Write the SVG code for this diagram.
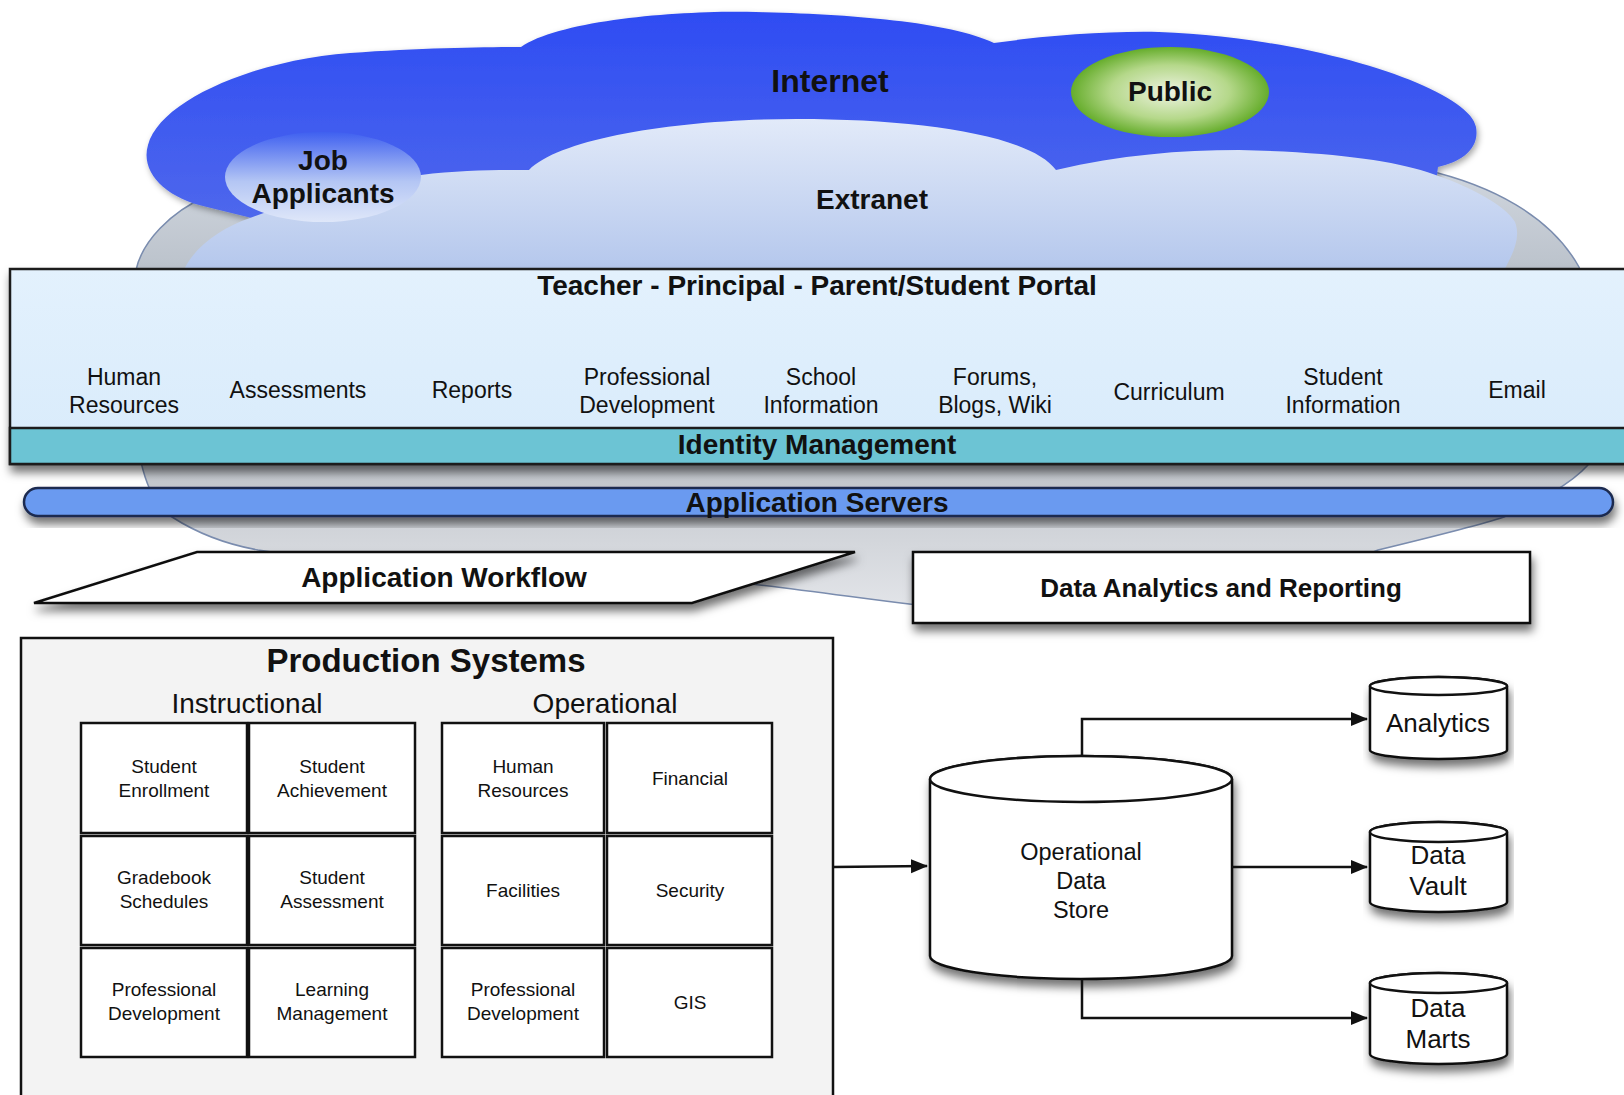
<svg xmlns="http://www.w3.org/2000/svg" width="1624" height="1095" viewBox="0 0 1624 1095">
<style>
.t{font-family:"Liberation Sans",Arial,Helvetica,sans-serif;fill:#111;text-anchor:middle}
.b{font-weight:bold}
.cell{fill:#fff;stroke:#111;stroke-width:2.5}
.cyl{fill:#fff;stroke:#111;stroke-width:2.5}
.conn{fill:none;stroke:#111;stroke-width:2.5}
</style>
<defs>
<linearGradient id="gInternet" x1="0" y1="0" x2="0" y2="1">
<stop offset="0" stop-color="#2e4cf3"/><stop offset="1" stop-color="#5069ec"/>
</linearGradient>
<linearGradient id="gFace" x1="0" y1="0" x2="0" y2="1">
<stop offset="0" stop-color="#e2eaf9"/><stop offset="1" stop-color="#b3c6ec"/>
</linearGradient>
<linearGradient id="gBase" gradientUnits="userSpaceOnUse" x1="0" y1="150" x2="0" y2="615">
<stop offset="0" stop-color="#d4dae2"/><stop offset="0.25" stop-color="#bcc3cc"/><stop offset="0.7" stop-color="#c4c8ce"/><stop offset="1" stop-color="#e4e6ea"/>
</linearGradient>
<linearGradient id="gJob" x1="0" y1="0" x2="0" y2="1">
<stop offset="0" stop-color="#3f60f0"/><stop offset="0.55" stop-color="#b4c6f4"/><stop offset="1" stop-color="#dfe7f9"/>
</linearGradient>
<radialGradient id="gPublic" cx="0.5" cy="0.5" r="0.5">
<stop offset="0" stop-color="#eef3e2"/><stop offset="0.6" stop-color="#b5d88a"/><stop offset="1" stop-color="#66ad2c"/>
</radialGradient>
<linearGradient id="gPortal" x1="0" y1="0" x2="0" y2="1">
<stop offset="0" stop-color="#e3f1fd"/><stop offset="1" stop-color="#d8ebfb"/>
</linearGradient>
<filter id="sh" x="-5%" y="-20%" width="110%" height="160%">
<feDropShadow dx="2" dy="7" stdDeviation="5" flood-color="#000" flood-opacity="0.55"/>
</filter>
<filter id="shs" x="-5%" y="-10%" width="110%" height="130%">
<feDropShadow dx="2" dy="3" stdDeviation="3" flood-color="#000" flood-opacity="0.35"/>
</filter>
<marker id="arr" markerUnits="userSpaceOnUse" markerWidth="18" markerHeight="16" refX="16" refY="7" orient="auto">
<path d="M0,0 L17,7 L0,14 Z" fill="#111"/>
</marker>
</defs>

<g id="extranet-base">
<path d="M207,196 C170,212 142,242 136,270 L133,400 C135,430 138,452 143,470 C150,495 160,510 172,517 C200,535 230,545 258,550 C380,568 500,575 600,572 C720,575 860,600 960,610 C1100,616 1300,585 1378,550 C1440,535 1480,525 1504,517 C1540,500 1570,485 1588,465 L1592,400 C1592,330 1588,290 1579,267 C1550,215 1490,185 1426,170 L1426,150 L207,150 Z" fill="url(#gBase)" stroke="#7a8cae" stroke-width="1.5"/>
</g>

<g id="internet" filter="url(#shs)">
<path d="M207,207 C165,198 140,172 148,145 C160,100 255,60 350,53 C420,48 480,47 521,47 C560,20 680,10 756,12 C850,14 950,22 994,43 C1050,35 1110,31 1159,32 C1320,38 1470,90 1476,127 C1480,150 1460,162 1438,167 L1430,230 L300,230 Z" fill="url(#gInternet)"/>
</g>

<g id="extranet">
<path d="M182,275 C190,250 220,228 250,218 L300,200 L421,175 C460,170 500,170 529,170 C560,138 680,119 797,119 C920,119 1030,135 1056,170 C1120,155 1180,150 1239,150 C1330,152 1390,160 1427,172 C1470,186 1505,205 1515,222 C1522,240 1510,258 1502,275 Z" fill="url(#gFace)"/>
<text class="t b" x="872" y="209" font-size="28">Extranet</text>
</g>
<text class="t b" x="830" y="92" font-size="32">Internet</text>

<g id="job-applicants">
<ellipse cx="323" cy="177" rx="98" ry="45" fill="url(#gJob)"/>
<text class="t b" x="323" y="170" font-size="28">Job</text>
<text class="t b" x="323" y="203" font-size="28">Applicants</text>
</g>

<g id="public">
<ellipse cx="1170" cy="92" rx="99" ry="45" fill="url(#gPublic)"/>
<text class="t b" x="1170" y="101" font-size="28">Public</text>
</g>

<g id="portal" filter="url(#sh)">
<rect x="10" y="269" width="1640" height="195" fill="url(#gPortal)" stroke="#1a1a1a" stroke-width="2.5"/>
<rect x="10" y="428" width="1640" height="36" fill="#6cc4d4" stroke="#1a1a1a" stroke-width="2.5"/>
</g>
<g id="portal-text">
<text class="t b" x="817" y="295" font-size="28">Teacher - Principal - Parent/Student Portal</text>
<text class="t" x="124" y="385" font-size="23">Human</text>
<text class="t" x="124" y="413" font-size="23">Resources</text>
<text class="t" x="298" y="398" font-size="23">Assessments</text>
<text class="t" x="472" y="398" font-size="23">Reports</text>
<text class="t" x="647" y="385" font-size="23">Professional</text>
<text class="t" x="647" y="413" font-size="23">Development</text>
<text class="t" x="821" y="385" font-size="23">School</text>
<text class="t" x="821" y="413" font-size="23">Information</text>
<text class="t" x="995" y="385" font-size="23">Forums,</text>
<text class="t" x="995" y="413" font-size="23">Blogs, Wiki</text>
<text class="t" x="1169" y="400" font-size="23">Curriculum</text>
<text class="t" x="1343" y="385" font-size="23">Student</text>
<text class="t" x="1343" y="413" font-size="23">Information</text>
<text class="t" x="1517" y="398" font-size="23">Email</text>
</g>
<g id="identity-management">
<text class="t b" x="817" y="454" font-size="28">Identity Management</text>
</g>

<g id="application-servers">
<rect x="24" y="488" width="1589" height="28" rx="14" ry="14" fill="#6b9af0" stroke="#1a2a50" stroke-width="2.5" filter="url(#sh)"/>
<text class="t b" x="817" y="512" font-size="28">Application Servers</text>
</g>

<g id="application-workflow">
<polygon points="197,552 855,552 692,603 34,603" fill="#fff" stroke="#111" stroke-width="2.5" filter="url(#sh)"/>
<text class="t b" x="444" y="587" font-size="28">Application Workflow</text>
</g>

<g id="data-analytics">
<rect x="913" y="552" width="617" height="71" fill="#fff" stroke="#111" stroke-width="2.5" filter="url(#sh)"/>
<text class="t b" x="1221" y="597" font-size="26">Data Analytics and Reporting</text>
</g>

<g id="production-systems">
<rect x="21" y="638" width="812" height="470" fill="#f3f3f3" stroke="#111" stroke-width="2.5"/>
<text class="t b" x="426" y="672" font-size="33">Production Systems</text>
<text class="t" x="247" y="713" font-size="28">Instructional</text>
<text class="t" x="605" y="713" font-size="28">Operational</text>
</g>

<g id="cell-student-enrollment"><rect class="cell" x="81" y="723" width="166" height="110"/>
<text class="t" x="164" y="773" font-size="19">Student</text><text class="t" x="164" y="797" font-size="19">Enrollment</text></g>
<g id="cell-student-achievement"><rect class="cell" x="249" y="723" width="166" height="110"/>
<text class="t" x="332" y="773" font-size="19">Student</text><text class="t" x="332" y="797" font-size="19">Achievement</text></g>
<g id="cell-gradebook"><rect class="cell" x="81" y="836" width="166" height="109"/>
<text class="t" x="164" y="884" font-size="19">Gradebook</text><text class="t" x="164" y="908" font-size="19">Schedules</text></g>
<g id="cell-student-assessment"><rect class="cell" x="249" y="836" width="166" height="109"/>
<text class="t" x="332" y="884" font-size="19">Student</text><text class="t" x="332" y="908" font-size="19">Assessment</text></g>
<g id="cell-prof-dev-inst"><rect class="cell" x="81" y="948" width="166" height="109"/>
<text class="t" x="164" y="996" font-size="19">Professional</text><text class="t" x="164" y="1020" font-size="19">Development</text></g>
<g id="cell-learning-management"><rect class="cell" x="249" y="948" width="166" height="109"/>
<text class="t" x="332" y="996" font-size="19">Learning</text><text class="t" x="332" y="1020" font-size="19">Management</text></g>

<g id="cell-human-resources"><rect class="cell" x="442" y="723" width="162" height="110"/>
<text class="t" x="523" y="773" font-size="19">Human</text><text class="t" x="523" y="797" font-size="19">Resources</text></g>
<g id="cell-financial"><rect class="cell" x="607" y="723" width="165" height="110"/>
<text class="t" x="690" y="785" font-size="19">Financial</text></g>
<g id="cell-facilities"><rect class="cell" x="442" y="836" width="162" height="109"/>
<text class="t" x="523" y="897" font-size="19">Facilities</text></g>
<g id="cell-security"><rect class="cell" x="607" y="836" width="165" height="109"/>
<text class="t" x="690" y="897" font-size="19">Security</text></g>
<g id="cell-prof-dev-op"><rect class="cell" x="442" y="948" width="162" height="109"/>
<text class="t" x="523" y="996" font-size="19">Professional</text><text class="t" x="523" y="1020" font-size="19">Development</text></g>
<g id="cell-gis"><rect class="cell" x="607" y="948" width="165" height="109"/>
<text class="t" x="690" y="1009" font-size="19">GIS</text></g>

<g id="ods">
<path class="cyl" filter="url(#sh)" d="M930,779 L930,956 A151,23 0 0 0 1232,956 L1232,779 A151,23 0 0 0 930,779 Z"/>
<ellipse class="cyl" cx="1081" cy="779" rx="151" ry="23"/>
<text class="t" x="1081" y="860" font-size="23.5">Operational</text>
<text class="t" x="1081" y="889" font-size="23.5">Data</text>
<text class="t" x="1081" y="918" font-size="23.5">Store</text>
</g>

<g id="analytics">
<path class="cyl" filter="url(#sh)" d="M1370,686 L1370,750 A68.5,9 0 0 0 1507,750 L1507,686 A68.5,9 0 0 0 1370,686 Z"/>
<ellipse class="cyl" cx="1438.5" cy="686" rx="68.5" ry="9"/>
<text class="t" x="1438" y="732" font-size="26">Analytics</text>
</g>

<g id="data-vault">
<path class="cyl" filter="url(#sh)" d="M1370,832 L1370,902 A68.5,10 0 0 0 1507,902 L1507,832 A68.5,10 0 0 0 1370,832 Z"/>
<ellipse class="cyl" cx="1438.5" cy="832" rx="68.5" ry="10"/>
<text class="t" x="1438" y="864" font-size="26">Data</text>
<text class="t" x="1438" y="895" font-size="26">Vault</text>
</g>

<g id="data-marts">
<path class="cyl" filter="url(#sh)" d="M1370,983 L1370,1054 A68.5,10 0 0 0 1507,1054 L1507,983 A68.5,10 0 0 0 1370,983 Z"/>
<ellipse class="cyl" cx="1438.5" cy="983" rx="68.5" ry="10"/>
<text class="t" x="1438" y="1017" font-size="26">Data</text>
<text class="t" x="1438" y="1048" font-size="26">Marts</text>
</g>

<g id="connectors">
<path class="conn" d="M833,867 L927,866" marker-end="url(#arr)"/>
<path class="conn" d="M1082,756 L1082,719 L1367,719" marker-end="url(#arr)"/>
<path class="conn" d="M1232,867 L1367,867" marker-end="url(#arr)"/>
<path class="conn" d="M1082,979 L1082,1018 L1367,1018" marker-end="url(#arr)"/>
</g>
</svg>
